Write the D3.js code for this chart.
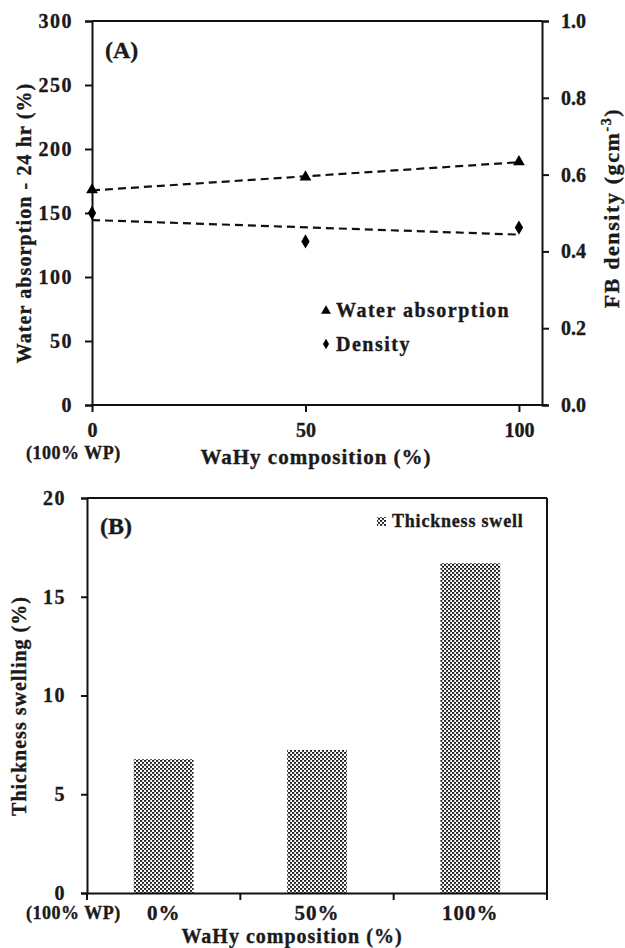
<!DOCTYPE html>
<html><head><meta charset="utf-8">
<script src="https://cdn.jsdelivr.net/npm/d3@7"></script>
<style>
body{margin:0;background:#fff;}
svg text{font-family:"Liberation Serif","Times New Roman",serif;font-weight:bold;fill:#1a1a1a;stroke:#1a1a1a;stroke-width:0.35px;}
</style></head>
<body><svg id="c" width="625" height="948"></svg>
<script>
// ---- Panel A data ----
const compA = [0, 50, 100];
const waterAbs = [168, 178, 190];        // % (left axis)
const density = [0.50, 0.426, 0.462];    // g cm^-3 (right axis)
const leftTicksA = [0, 50, 100, 150, 200, 250, 300];
const rightTicksA = [0, 0.2, 0.4, 0.6, 0.8, 1.0];
const xTicksA = [0, 50, 100];
// ---- Panel B data ----
const compB = ["0%", "50%", "100%"];
const swelling = [6.78, 7.24, 16.7];
const yTicksB = [0, 5, 10, 15, 20];

const svg = d3.select("#c");
const defs = svg.append("defs");
const pat = defs.append("pattern").attr("id","dots").attr("patternUnits","userSpaceOnUse")
  .attr("width",4).attr("height",4);
pat.append("rect").attr("width",4).attr("height",4).attr("fill","#fff");
pat.append("rect").attr("x",0).attr("y",0).attr("width",2.2).attr("height",1.8).attr("fill","#1e1e1e");
pat.append("rect").attr("x",2).attr("y",2).attr("width",2.2).attr("height",1.8).attr("fill","#1e1e1e");

function styleAxis(g, fs){
  g.selectAll("path.domain").attr("stroke","#111").attr("stroke-width",2);
  g.selectAll(".tick line").attr("stroke","#111").attr("stroke-width",2);
  g.selectAll(".tick text").style("font-family",'"Liberation Serif",serif').style("font-weight","bold")
    .style("font-size",(fs||20)+"px").attr("fill","#1a1a1a");
}
function linfit(xs, ys){
  const n=xs.length, mx=d3.mean(xs), my=d3.mean(ys);
  let sxy=0,sxx=0; for(let i=0;i<n;i++){sxy+=(xs[i]-mx)*(ys[i]-my);sxx+=(xs[i]-mx)**2;}
  const b=sxy/sxx; return x=>my+b*(x-mx);
}

// ================= Panel A =================
const A = {l:92, r:542, t:21, b:405};
const xA = d3.scaleLinear().domain([0,105.4]).range([A.l,A.r]);
const yL = d3.scaleLinear().domain([0,300]).range([A.b,A.t]);
const yR = d3.scaleLinear().domain([0,1]).range([A.b,A.t]);

svg.append("line").attr("x1",A.l).attr("x2",A.r).attr("y1",A.t).attr("y2",A.t).attr("stroke","#111").attr("stroke-width",2);

const gxA = svg.append("g").attr("transform",`translate(0,${A.b})`)
  .call(d3.axisBottom(xA).tickValues(xTicksA).tickFormat(d3.format("d")).tickSizeOuter(0).tickSize(7).tickPadding(11));
styleAxis(gxA);
gxA.select("path.domain").attr("d",`M${A.l},0H${A.r+5}`);
const gyL = svg.append("g").attr("transform",`translate(${A.l},0)`)
  .call(d3.axisLeft(yL).tickValues(leftTicksA).tickSizeOuter(0).tickSize(7).tickPadding(12));
styleAxis(gyL);
gyL.selectAll(".tick text").style("letter-spacing","1.5px");
const gyR = svg.append("g").attr("transform",`translate(${A.r},0)`)
  .call(d3.axisRight(yR).tickValues(rightTicksA).tickFormat(d3.format(".1f")).tickSizeOuter(0).tickSize(7).tickPadding(12));
styleAxis(gyR);

// trend lines (least-squares fit of each series)
const fW = linfit(compA, waterAbs), fD = linfit(compA, density);
const line = d3.line();
svg.append("path").attr("d", line([[xA(0),yL(fW(0))],[xA(100),yL(fW(100))]]))
  .attr("stroke","#111").attr("stroke-width",2.2).attr("stroke-dasharray","8,5").attr("fill","none");
svg.append("path").attr("d", line([[xA(0),yR(fD(0))],[xA(100),yR(fD(100))]]))
  .attr("stroke","#111").attr("stroke-width",2.2).attr("stroke-dasharray","8,5").attr("fill","none");

svg.selectAll("path.tri").data(compA).enter().append("path").attr("class","tri")
  .attr("d", d3.symbol(d3.symbolTriangle, 60)())
  .attr("transform",(d,i)=>`translate(${xA(d)},${yL(waterAbs[i])})`).attr("fill","#000");
svg.selectAll("path.dia").data(compA).enter().append("path").attr("class","dia")
  .attr("d", d3.symbol(d3.symbolDiamond, 60)())
  .attr("transform",(d,i)=>`translate(${xA(d)},${yR(density[i])})`).attr("fill","#000");

svg.append("text").attr("x",105).attr("y",58).style("font-size","24px").text("(A)");
// legend A
svg.append("path").attr("d",d3.symbol(d3.symbolTriangle,42)()).attr("transform","translate(326,311)").attr("fill","#000");
svg.append("text").attr("x",336).attr("y",317).style("font-size","20px").style("letter-spacing","1.5px").text("Water absorption");
svg.append("path").attr("d",d3.symbol(d3.symbolDiamond,32)()).attr("transform","translate(326,344)").attr("fill","#000");
svg.append("text").attr("x",336).attr("y",351).style("font-size","20px").style("letter-spacing","1.5px").text("Density");

// axis titles A
svg.append("text").attr("transform","translate(31,223) rotate(-90)").attr("text-anchor","middle")
  .style("font-size","20px").style("letter-spacing","1.1px").text("Water absorption  - 24 hr (%)");
const rt = svg.append("text").attr("transform","translate(619,208) rotate(-90)").attr("text-anchor","middle")
  .style("font-size","22px").style("letter-spacing","1.6px");
rt.append("tspan").text("FB density (gcm");
rt.append("tspan").attr("dy",-8).style("font-size","14px").text("-3");
rt.append("tspan").attr("dy",8).text(")");
svg.append("text").attr("x",26).attr("y",459).style("font-size","18px").style("letter-spacing","0.5px").text("(100% WP)");
svg.append("text").attr("x",316).attr("y",464).attr("text-anchor","middle").style("font-size","21px")
  .style("letter-spacing","1px").text("WaHy composition  (%)");

// ================= Panel B =================
const B = {l:87, r:547, t:498, b:893};
const xB = d3.scaleBand().domain(compB).range([B.l,B.r]).paddingInner(0.61).paddingOuter(0.305);
const yB = d3.scaleLinear().domain([0,20]).range([B.b,B.t]);
const xBand = d3.scaleBand().domain(compB).range([B.l,B.r]);

svg.selectAll("rect.bar").data(compB).enter().append("rect").attr("class","bar")
  .attr("x",d=>xB(d)).attr("width",xB.bandwidth())
  .attr("y",(d,i)=>yB(swelling[i])).attr("height",(d,i)=>yB(0)-yB(swelling[i]))
  .attr("fill","url(#dots)");

svg.append("line").attr("x1",B.l).attr("x2",B.r).attr("y1",B.t).attr("y2",B.t).attr("stroke","#111").attr("stroke-width",2);
svg.append("line").attr("x1",B.r).attr("x2",B.r).attr("y1",B.t).attr("y2",B.b+7).attr("stroke","#111").attr("stroke-width",2);

const gxB = svg.append("g").attr("transform",`translate(0,${B.b})`)
  .call(d3.axisBottom(xBand).tickSize(0).tickPadding(12).tickSizeOuter(0));
styleAxis(gxB, 21);
gxB.selectAll(".tick text").style("letter-spacing","1px");
// boundary ticks between categories
gxB.selectAll("line.bt").data(compB).enter().append("line").attr("class","bt")
  .attr("x1",d=>xBand(d)+xBand.bandwidth()).attr("x2",d=>xBand(d)+xBand.bandwidth())
  .attr("y1",0).attr("y2",7).attr("stroke","#111").attr("stroke-width",2);
gxB.append("line").attr("x1",B.l).attr("x2",B.l).attr("y1",0).attr("y2",7).attr("stroke","#111").attr("stroke-width",2);

const gyB = svg.append("g").attr("transform",`translate(${B.l},0)`)
  .call(d3.axisLeft(yB).tickValues(yTicksB).tickSizeOuter(0).tickSize(6).tickPadding(15));
styleAxis(gyB);
gyB.selectAll(".tick text").style("letter-spacing","1.5px");

svg.append("text").attr("x",100).attr("y",534).style("font-size","24px").text("(B)");
svg.append("rect").attr("x",377).attr("y",517).attr("width",9).attr("height",9).attr("fill","url(#dots)");
svg.append("text").attr("x",392).attr("y",527).style("font-size","18px").style("letter-spacing","0.8px").text("Thickness swell");

svg.append("text").attr("transform","translate(26,706) rotate(-90)").attr("text-anchor","middle")
  .style("font-size","20px").style("letter-spacing","1px").text("Thickness  swelling  (%)");
svg.append("text").attr("x",26).attr("y",919).style("font-size","18px").style("letter-spacing","0.5px").text("(100% WP)");
svg.append("text").attr("x",292).attr("y",943).attr("text-anchor","middle").style("font-size","20px")
  .style("letter-spacing","1px").text("WaHy composition  (%)");
</script></body></html>
